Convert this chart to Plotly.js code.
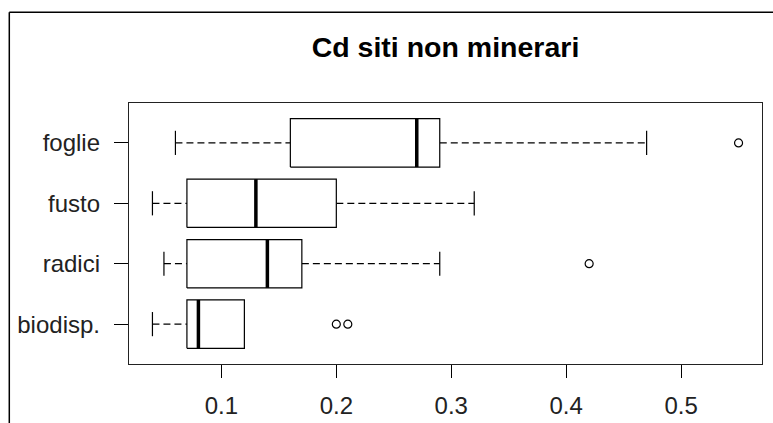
<!DOCTYPE html>
<html>
<head>
<meta charset="utf-8">
<script src="https://cdn.plot.ly/plotly-3.0.1.min.js"></script>
<style>
  html, body { margin: 0; padding: 0; background: #fff; }
  #chart { width: 773px; height: 423px; }
</style>
</head>
<body>
<div id="chart"></div>
<script>
// Categories, bottom to top (R horizontal boxplot order)
const categories = ["biodisp.", "radici", "fusto", "foglie"];
const lowerWhisker = [0.04, 0.05, 0.04, 0.06];
const q1 = [0.07, 0.07, 0.07, 0.16];
const median = [0.08, 0.14, 0.13, 0.27];
const q3 = [0.12, 0.17, 0.20, 0.29];
const upperWhisker = [0.12, 0.29, 0.32, 0.47];
const outliers = [[0.20, 0.21], [0.42], [], [0.55]];
const xTicks = [0.1, 0.2, 0.3, 0.4, 0.5];
const xTickLabels = ["0.1", "0.2", "0.3", "0.4", "0.5"];
const titleText = "Cd siti non minerari";

const HALF = 0.4;   // half box height (R default width 0.8)
const STAPLE = 0.2; // half staple height

const traces = [];
const wx = [], wy = [], sx = [], sy = [], mx = [], my = [], ox = [], oy = [];
categories.forEach((c, i) => {
  const p = i + 1;
  wx.push(lowerWhisker[i], q1[i], null, q3[i], upperWhisker[i], null);
  wy.push(p, p, null, p, p, null);
  sx.push(lowerWhisker[i], lowerWhisker[i], null, upperWhisker[i], upperWhisker[i], null);
  sy.push(p - STAPLE, p + STAPLE, null, p - STAPLE, p + STAPLE, null);
  mx.push(median[i], median[i], null);
  my.push(p - HALF, p + HALF, null);
  outliers[i].forEach(v => { ox.push(v); oy.push(p); });
});

traces.push({ x: wx, y: wy, mode: "lines", type: "scatter", hoverinfo: "skip",
  line: { color: "#000", width: 1.2, dash: "7px,4px" } });
traces.push({ x: sx, y: sy, mode: "lines", type: "scatter", hoverinfo: "skip",
  line: { color: "#000", width: 1.2 } });
categories.forEach((c, i) => {
  const p = i + 1;
  traces.push({ x: [q1[i], q3[i], q3[i], q1[i], q1[i]],
    y: [p - HALF, p - HALF, p + HALF, p + HALF, p - HALF],
    mode: "lines", type: "scatter", fill: "toself", fillcolor: "#fff",
    line: { color: "#000", width: 1.2 }, hoverinfo: "skip" });
});
traces.push({ x: mx, y: my, mode: "lines", type: "scatter", hoverinfo: "skip",
  line: { color: "#000", width: 3.5 } });
traces.push({ x: ox, y: oy, mode: "markers", type: "scatter",
  marker: { symbol: "circle-open", size: 8, color: "#000", line: { width: 1.2, color: "#000" } } });

const font = { family: "Liberation Sans, Arial, sans-serif", color: "#000" };

const layout = {
  width: 773, height: 423,
  margin: { l: 129, r: 11, t: 103, b: 59, pad: 0 },
  paper_bgcolor: "#fff", plot_bgcolor: "#fff",
  showlegend: false,
  font: font,
  title: { text: "<b>" + titleText + "</b>", xref: "paper", x: 0.5, xanchor: "center",
    yref: "container", y: 0.889, yanchor: "middle",
    font: { family: font.family, size: 28.5, color: "#000" } },
  xaxis: {
    range: [0.0196, 0.5704], tickmode: "array", tickvals: xTicks, ticktext: xTickLabels,
    ticks: "outside", ticklen: 13, tickwidth: 1, tickcolor: "#000",
    showline: true, mirror: true, linecolor: "#222", linewidth: 1.2,
    showgrid: false, zeroline: false,
    tickfont: { family: font.family, size: 24, color: "#222" }, ticklabelstandoff: 7
  },
  yaxis: {
    range: [0.34, 4.66], tickmode: "array", tickvals: categories.map((c, i) => i + 1), ticktext: categories,
    ticks: "outside", ticklen: 14, tickwidth: 1, tickcolor: "#000",
    showline: true, mirror: true, linecolor: "#222", linewidth: 1.2,
    showgrid: false, zeroline: false,
    tickfont: { family: font.family, size: 24, color: "#222" }, ticklabelstandoff: 9
  },
  shapes: [
    { type: "line", xref: "paper", yref: "paper", x0: (9.3 - 129) / 633, x1: (9.3 - 129) / 633,
      y0: 1 + (103 - 12.3) / 261, y1: -0.4, line: { color: "#000", width: 1.5 } },
    { type: "line", xref: "paper", yref: "paper", x0: (9.3 - 129) / 633, x1: 1.1,
      y0: 1 + (103 - 12.3) / 261, y1: 1 + (103 - 12.3) / 261, line: { color: "#000", width: 1.5 } }
  ]
};

Plotly.newPlot("chart", traces, layout, { staticPlot: true, displayModeBar: false });
</script>
</body>
</html>
